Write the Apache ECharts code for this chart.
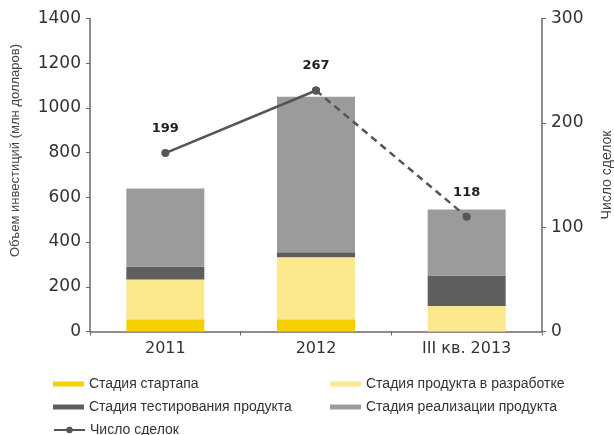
<!DOCTYPE html>
<html>
<head>
<meta charset="utf-8">
<script src="https://cdn.jsdelivr.net/npm/echarts@6/dist/echarts.min.js"></script>
<style>
  html, body { margin: 0; padding: 0; background: #fff; }
  #main { width: 614px; height: 435px; }
</style>
</head>
<body>
<div id="main"></div>
<script>
var chartDom = document.getElementById('main');
var myChart = echarts.init(chartDom);
var option;

// data
let periods = ['2011', '2012', 'III кв. 2013'];
let startup = [55, 55, 0];
let development = [178, 277, 114];
let testing = [57, 22, 137];
let realization = [350, 696, 295];
// where the points sit on the right axis, and the numbers printed above them
let dealsPos = [171, 231, 110];
let dealsLabels = ['199', '267', '118'];

let seriesNames = ['Стадия стартапа', 'Стадия продукта в разработке',
  'Стадия тестирования продукта', 'Стадия реализации продукта'];
let lineName = 'Число сделок';

let axisColor = '#6e6663';
let lineColor = '#555555';

// solid from 2011 to 2012, dashed after that
let solidPart = dealsPos.map(function (v, i) { return i <= 1 ? v : '-'; });
let dashedPart = dealsPos.map(function (v, i) { return i >= 1 ? v : '-'; });

function barSeries(name, data, color) {
  return {
    name: name,
    type: 'bar',
    stack: 'inv',
    barWidth: 78,
    data: data,
    itemStyle: { color: color },
    emphasis: { disabled: true }
  };
}

let legendText = { fontFamily: 'Liberation Sans, Arial, sans-serif', fontSize: 14, color: '#333', lineHeight: 14 };

option = {
  animation: false,
  textStyle: { fontFamily: 'DejaVu Sans, Verdana, sans-serif' },
  grid: { left: 90, right: 72, top: 18.5, bottom: 103.5, outerBoundsMode: 'none', containLabel: false },
  legend: [
    {
      left: 48, top: 372, orient: 'vertical',
      itemWidth: 31, itemHeight: 5, itemGap: 9, icon: 'rect',
      data: [seriesNames[0], seriesNames[2]],
      textStyle: legendText
    },
    {
      left: 325, top: 372, orient: 'vertical',
      itemWidth: 31, itemHeight: 5, itemGap: 9, icon: 'rect',
      data: [seriesNames[1], seriesNames[3]],
      textStyle: legendText
    },
    {
      left: 48, top: 418,
      itemWidth: 31, itemHeight: 8,
      data: [lineName],
      textStyle: legendText
    }
  ],
  xAxis: {
    type: 'category',
    data: periods,
    axisLine: { lineStyle: { color: axisColor, width: 1.5 } },
    axisTick: { show: true, length: 4, lineStyle: { color: axisColor } },
    axisLabel: { fontSize: 16, color: '#333', margin: 9 }
  },
  yAxis: [
    {
      type: 'value',
      min: 0, max: 1400, interval: 200,
      name: 'Объем инвестиций (млн долларов)',
      nameLocation: 'middle',
      nameRotate: 90,
      nameGap: 68,
      nameTextStyle: {
        fontFamily: 'Liberation Sans, Arial, sans-serif',
        fontSize: 13, color: '#444',
        padding: [0, 0, 0, 49]
      },
      splitLine: { show: false },
      axisLine: { show: true, lineStyle: { color: axisColor, width: 1.5 } },
      axisTick: { show: true, length: 4, lineStyle: { color: axisColor } },
      axisLabel: { fontSize: 17, color: '#333', margin: 9, formatter: function (v) { return String(v); } }
    },
    {
      type: 'value',
      min: 0, max: 300, interval: 100,
      name: lineName,
      nameLocation: 'middle',
      nameRotate: 90,
      nameGap: 58,
      nameTextStyle: {
        fontFamily: 'Liberation Sans, Arial, sans-serif',
        fontSize: 14, color: '#444'
      },
      splitLine: { show: false },
      axisLine: { show: true, lineStyle: { color: axisColor, width: 1.5 } },
      axisTick: { show: true, length: 4, lineStyle: { color: axisColor } },
      axisLabel: { fontSize: 17, color: '#333', margin: 9, formatter: function (v) { return String(v); } }
    }
  ],
  series: [
    barSeries(seriesNames[0], startup, '#f5cf00'),
    barSeries(seriesNames[1], development, '#fbe78c'),
    barSeries(seriesNames[2], testing, '#5e5e5e'),
    barSeries(seriesNames[3], realization, '#9b9b9b'),
    {
      name: lineName,
      type: 'line',
      yAxisIndex: 1,
      data: solidPart,
      symbol: 'circle',
      symbolSize: 8,
      itemStyle: { color: lineColor },
      lineStyle: { color: lineColor, width: 2.5 },
      label: {
        show: true, position: 'top', distance: 14,
        fontSize: 13, fontWeight: 'bold', color: '#222',
        formatter: function (p) { return dealsLabels[p.dataIndex]; }
      },
      z: 5
    },
    {
      name: lineName,
      type: 'line',
      yAxisIndex: 1,
      data: dashedPart,
      symbol: 'circle',
      symbolSize: 8,
      itemStyle: { color: lineColor },
      lineStyle: { color: lineColor, width: 2.5, type: [7, 5] },
      label: {
        show: true, position: 'top', distance: 14,
        fontSize: 13, fontWeight: 'bold', color: '#222',
        formatter: function (p) { return p.dataIndex === 2 ? dealsLabels[p.dataIndex] : ''; }
      },
      z: 5
    }
  ]
};

option && myChart.setOption(option);
</script>
</body>
</html>
